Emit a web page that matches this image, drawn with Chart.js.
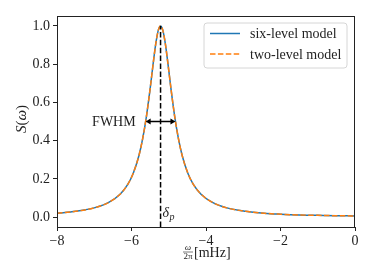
<!DOCTYPE html>
<html lang="en">
<head>
    <meta charset="UTF-8">
    <title>S(ω) spectrum</title>
    <script src="https://cdn.jsdelivr.net/npm/chart.js"></script>
    <style>
        body { margin: 0; background: #fff; }
        canvas { display: block; }
    </style>
</head>
<body>
    <canvas id="spectrum" width="374" height="280"></canvas>
    <script>
        // frequency axis, omega / 2pi in mHz
        var freq = [-8, -7.5, -7, -6.6, -6.3, -6.1, -5.95, -5.8, -5.7, -5.6, -5.5, -5.42, -5.35, -5.28,
                    -5.22, -5.16, -5.09, -5.02, -4.94, -4.84, -4.74, -4.64, -4.49, -4.34, -4.14, -3.84,
                    -3.44, -2.94, -2.44, -2, -1.5, -1, -0.5, 0];
        // S(omega)
        var sixLevel = [0.020, 0.030, 0.048, 0.078, 0.121, 0.171, 0.231, 0.322, 0.410, 0.526, 0.671, 0.800, 0.905, 0.978,
                        1.000, 0.978, 0.905, 0.800, 0.671, 0.526, 0.410, 0.322, 0.231, 0.171, 0.121, 0.078,
                        0.048, 0.030, 0.020, 0.015, 0.011, 0.009, 0.007, 0.006];
        var twoLevel = [0.020, 0.030, 0.048, 0.078, 0.121, 0.171, 0.231, 0.322, 0.410, 0.526, 0.671, 0.800, 0.905, 0.978,
                        1.000, 0.978, 0.905, 0.800, 0.671, 0.526, 0.410, 0.322, 0.231, 0.171, 0.121, 0.078,
                        0.048, 0.030, 0.020, 0.015, 0.011, 0.009, 0.007, 0.006];
        var xTicks = [-8, -6, -4, -2, 0];
        var yTicks = [0, 0.2, 0.4, 0.6, 0.8, 1.0];
        var deltaP = -5.22;          // peak position
        var fwhmEdges = [-5.62, -4.82]; // half maximum points
        var halfMax = 0.5;
        var yMin = -0.052, yMax = 1.052;

        var serif = "'Liberation Serif', 'DejaVu Serif', serif";
        Chart.defaults.font.family = serif;
        Chart.defaults.font.size = 14;
        Chart.defaults.color = '#222';

        function toPoints(xv, yv) {
            return xv.map(function (x, i) { return { x: x, y: yv[i] }; });
        }

        // frame, arrow, labels, legend
        var extras = {
            id: 'extras',
            afterDraw: function (chart) {
                var ctx = chart.ctx, a = chart.chartArea;
                var xs = chart.scales.x, ys = chart.scales.y;
                ctx.save();

                // axes box
                ctx.strokeStyle = '#222';
                ctx.lineWidth = 1;
                ctx.strokeRect(a.left + 0.5, a.top + 0.5, a.right - a.left - 1, a.bottom - a.top);

                // FWHM double arrow
                var x1 = xs.getPixelForValue(fwhmEdges[0]);
                var x2 = xs.getPixelForValue(fwhmEdges[1]);
                var yy = ys.getPixelForValue(halfMax);
                ctx.strokeStyle = '#000';
                ctx.fillStyle = '#000';
                ctx.lineWidth = 1.5;
                ctx.beginPath();
                ctx.moveTo(x1 + 3, yy);
                ctx.lineTo(x2 - 3, yy);
                ctx.stroke();
                ctx.beginPath();
                ctx.moveTo(x1, yy); ctx.lineTo(x1 + 5, yy - 3); ctx.lineTo(x1 + 5, yy + 3); ctx.closePath();
                ctx.moveTo(x2, yy); ctx.lineTo(x2 - 5, yy - 3); ctx.lineTo(x2 - 5, yy + 3); ctx.closePath();
                ctx.fill();

                ctx.fillStyle = '#222';
                ctx.font = '14px ' + serif;
                ctx.textAlign = 'right';
                ctx.textBaseline = 'middle';
                ctx.fillText('FWHM', x1 - 10, yy + 1);

                // delta_p label
                var xp = xs.getPixelForValue(deltaP);
                ctx.textAlign = 'left';
                ctx.textBaseline = 'alphabetic';
                ctx.font = 'italic 14px ' + serif;
                ctx.fillText('δ', xp + 2, 217);
                ctx.font = 'italic 10px ' + serif;
                ctx.fillText('p', xp + 9, 220);

                // legend
                var lx = 204, ly = 23, lw = 143, lh = 45, r = 3;
                ctx.beginPath();
                ctx.moveTo(lx + r, ly);
                ctx.arcTo(lx + lw, ly, lx + lw, ly + lh, r);
                ctx.arcTo(lx + lw, ly + lh, lx, ly + lh, r);
                ctx.arcTo(lx, ly + lh, lx, ly, r);
                ctx.arcTo(lx, ly, lx + lw, ly, r);
                ctx.closePath();
                ctx.fillStyle = 'rgba(255,255,255,0.8)';
                ctx.fill();
                ctx.strokeStyle = '#d6d6d6';
                ctx.lineWidth = 1;
                ctx.stroke();
                var rows = [33.5, 54];
                [0, 1].forEach(function (i) {
                    var ds = chart.data.datasets[i];
                    ctx.strokeStyle = ds.borderColor;
                    ctx.lineWidth = 1.5;
                    ctx.setLineDash(ds.borderDash || []);
                    ctx.beginPath();
                    ctx.moveTo(210, rows[i]);
                    ctx.lineTo(240, rows[i]);
                    ctx.stroke();
                    ctx.setLineDash([]);
                    ctx.fillStyle = '#222';
                    ctx.font = '14px ' + serif;
                    ctx.textBaseline = 'middle';
                    ctx.fillText(ds.label, 250, rows[i] + 1);
                });

                // y title S(omega)
                ctx.save();
                ctx.translate(22, 119);
                ctx.rotate(-Math.PI / 2);
                ctx.textBaseline = 'middle';
                var parts = [['S', 'italic '], ['(', ''], ['ω', 'italic '], [')', '']];
                var tot = 0;
                parts.forEach(function (p) { ctx.font = p[1] + '15px ' + serif; tot += ctx.measureText(p[0]).width; });
                var cx = -tot / 2;
                parts.forEach(function (p) {
                    ctx.font = p[1] + '15px ' + serif;
                    ctx.textAlign = 'left';
                    ctx.fillText(p[0], cx, 0);
                    cx += ctx.measureText(p[0]).width;
                });
                ctx.restore();

                // x title: omega/2pi [mHz]
                ctx.textAlign = 'center';
                ctx.textBaseline = 'alphabetic';
                ctx.font = 'italic 9px ' + serif;
                ctx.fillText('ω', 188, 250);
                ctx.font = '9px ' + serif;
                ctx.fillText('2π', 188, 259);
                ctx.strokeStyle = '#222';
                ctx.lineWidth = 0.6;
                ctx.beginPath();
                ctx.moveTo(183, 252);
                ctx.lineTo(193, 252);
                ctx.stroke();
                ctx.textAlign = 'left';
                ctx.font = '14px ' + serif;
                ctx.fillText('[mHz]', 194, 257);

                ctx.restore();
            }
        };

        new Chart(document.getElementById('spectrum'), {
            type: 'line',
            data: {
                datasets: [{
                    label: 'six-level model',
                    data: toPoints(freq, sixLevel),
                    borderColor: '#1f77b4',
                    borderWidth: 1.5,
                    pointRadius: 0,
                    cubicInterpolationMode: 'monotone',
                    order: 3
                }, {
                    label: 'two-level model',
                    data: toPoints(freq, twoLevel),
                    borderColor: '#ff7f0e',
                    borderWidth: 1.5,
                    borderDash: [5.5, 2.4],
                    pointRadius: 0,
                    cubicInterpolationMode: 'monotone',
                    order: 2
                }, {
                    label: 'peak',
                    data: [{ x: deltaP, y: yMin }, { x: deltaP, y: 1.0 }],
                    borderColor: '#000',
                    borderWidth: 1.5,
                    borderDash: [5.5, 2.4],
                    pointRadius: 0,
                    order: 1
                }]
            },
            options: {
                responsive: false,
                animation: false,
                devicePixelRatio: 1,
                layout: { padding: { top: 16, right: 19, left: 0, bottom: 0 } },
                plugins: { legend: { display: false }, tooltip: { enabled: false } },
                scales: {
                    x: {
                        type: 'linear',
                        min: -8, max: 0,
                        afterBuildTicks: function (s) { s.ticks = xTicks.map(function (v) { return { value: v }; }); },
                        afterFit: function (s) { s.height = 53; },
                        ticks: {
                            padding: 2,
                            maxRotation: 0,
                            callback: function (v) { return v < 0 ? '−' + Math.abs(v) : String(v); }
                        },
                        grid: { drawOnChartArea: false, tickLength: 4, color: '#222' },
                        border: { color: '#222' }
                    },
                    y: {
                        min: yMin, max: yMax,
                        afterBuildTicks: function (s) { s.ticks = yTicks.map(function (v) { return { value: v }; }); },
                        afterFit: function (s) { s.width = 57; },
                        ticks: {
                            padding: 3,
                            callback: function (v) { return v.toFixed(1); }
                        },
                        grid: { drawOnChartArea: false, tickLength: 4, color: '#222' },
                        border: { color: '#222' }
                    }
                }
            },
            plugins: [extras]
        });
    </script>
</body>
</html>
